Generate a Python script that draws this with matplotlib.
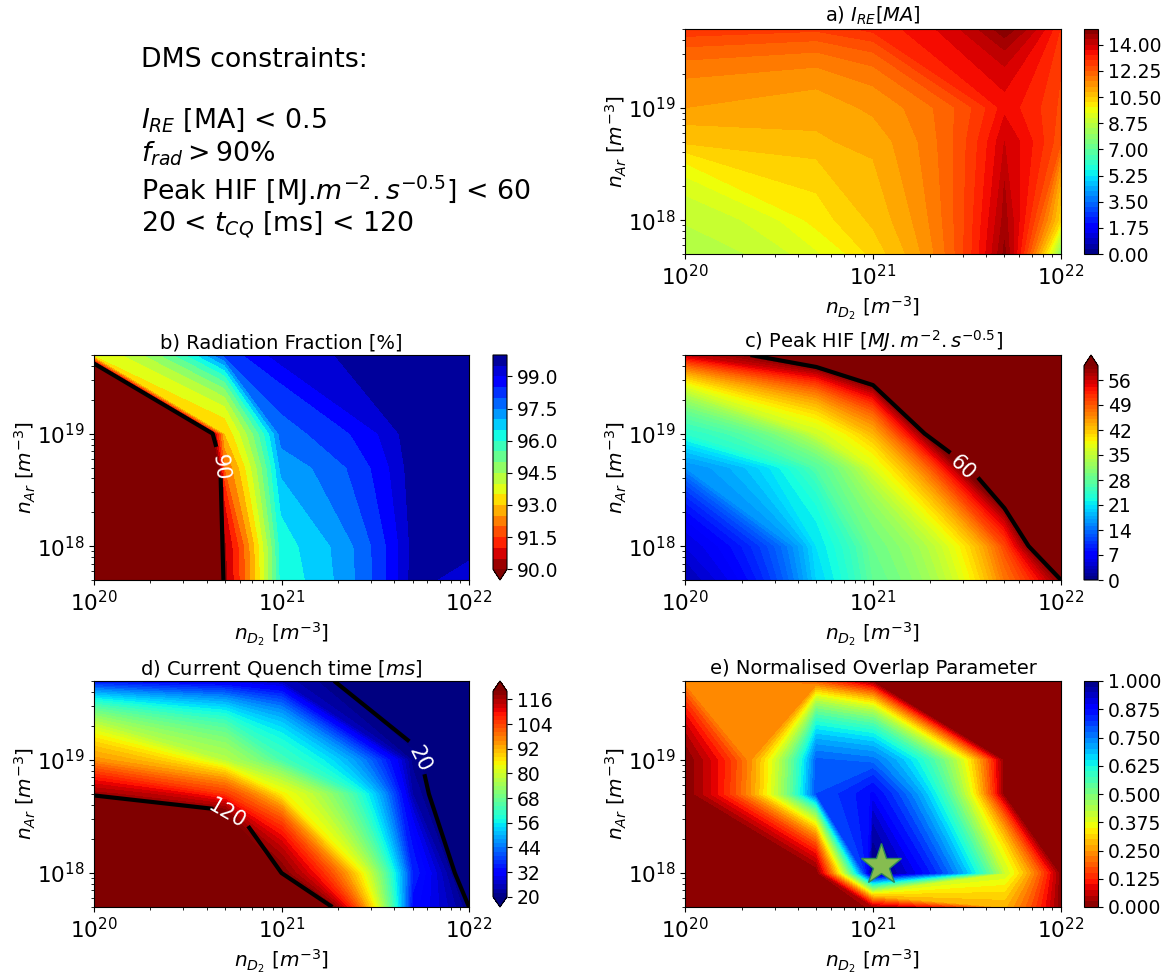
import numpy as np
import matplotlib
matplotlib.use('Agg')
import matplotlib.pyplot as plt

# scan grid
n_d2 = [1e20, 5e20, 1e21, 5e21, 1e22]
n_ar = [5e17, 1e18, 5e18, 1e19, 5e19]

# rows go from lowest n_ar to highest
i_re = [[8.5, 9.4, 10.3, 14.8, 7.7],
        [8.8, 10.0, 10.6, 14.5, 10.2],
        [10.6, 10.8, 11.0, 14.0, 12.3],
        [11.2, 11.0, 11.3, 13.5, 12.5],
        [12.9, 12.7, 13.1, 15.0, 12.9]]

f_rad = [[78.0, 90.3, 96.2, 99.7, 99.1],
         [80.0, 90.4, 96.3, 99.65, 99.88],
         [65.0, 92.0, 97.2, 99.8, 99.9],
         [76.0, 93.0, 97.8, 99.9, 100.0],
         [93.5, 98.2, 99.35, 100.0, 100.0]]

hif = [[3, 20, 28, 47, 60],
       [5, 21, 29, 50, 79],
       [16, 27, 37, 84, 100],
       [24, 36, 43, 120, 130],
       [56, 69, 83, 140, 150]]

t_cq = [[220, 170, 144, 33, 20],
        [200, 144, 120, 36, 12.5],
        [117, 105, 85, 24, 6],
        [95, 77, 63, 21, 10],
        [33, 29, 25, 3, 1]]

overlap = [[0.0, 0.0, 0.03, 0.28, 0.0],
           [0.0, 0.0, 1.00, 0.40, 0.0],
           [0.0, 0.80, 0.88, 0.0, 0.0],
           [0.0, 0.78, 0.76, 0.0, 0.0],
           [0.24, 0.17, 0.0, 0.0, 0.0]]

best_d2 = 1.1e21
best_ar = 1.17e18

W, H = 1169, 973
fig = plt.figure(figsize=(W / 100, H / 100), dpi=100)


def box(x0, y0, x1, y1):
    # pixel box to figure fraction
    return [x0 / W, 1 - y1 / H, (x1 - x0) / W, (y1 - y0) / H]


def panel(pos, cpos, z, levels, cmap, title, ticks, fmt, extend='neither', lines=None, labels=None):
    ax = fig.add_axes(box(*pos))
    cs = ax.contourf(n_d2, n_ar, z, levels=levels, cmap=cmap, extend=extend)
    ax.set_xscale('log')
    ax.set_yscale('log')
    ax.set_xlim(1e20, 1e22)
    ax.set_ylim(5e17, 5e19)
    if lines:
        cl = ax.contour(n_d2, n_ar, z, levels=lines, colors='k', linewidths=3)
        ax.clabel(cl, fmt='%d', colors='white', fontsize=15, inline=True, manual=labels)
    ax.set_title(title, fontsize=14, pad=5)
    ax.set_xlabel(r'$n_{D_2}$ $[m^{-3}]$', fontsize=14.5)
    ax.set_ylabel(r'$n_{Ar}$ $[m^{-3}]$', fontsize=14.5, labelpad=-1)
    ax.tick_params(axis='both', which='major', labelsize=15.5)
    cax = fig.add_axes(box(*cpos))
    cb = fig.colorbar(cs, cax=cax, ticks=ticks, format=fmt)
    cb.ax.tick_params(labelsize=13.5)
    cb.ax.minorticks_off()
    return ax


panel((685, 29, 1061, 254), (1084, 29, 1098, 254), i_re, np.arange(0, 15.05, 0.35), 'jet',
      r'a) $I_{RE} [MA]$', np.arange(0, 14.1, 1.75), '%.2f')
panel((94, 355, 469, 580), (493, 355, 507, 580), f_rad, np.arange(90, 100.01, 0.5), 'jet_r',
      'b) Radiation Fraction [%]', np.arange(90, 99.1, 1.5), '%.1f', extend='min',
      lines=[90], labels=[(4.8e20, 5e18)])
panel((685, 355, 1061, 580), (1084, 355, 1098, 580), hif, np.arange(0, 60.1, 1), 'jet',
      r'c) Peak HIF $[MJ.m^{-2}.s^{-0.5}]$', np.arange(0, 57, 7), '%d', extend='max',
      lines=[60], labels=[(3e21, 5e18)])
panel((94, 681, 469, 907), (493, 681, 507, 907), t_cq, np.arange(20, 120.1, 2), 'jet',
      r'd) Current Quench time $[ms]$', np.arange(20, 117, 12), '%d', extend='both',
      lines=[20, 120], labels=[(5.4e21, 1e19), (5e20, 3.2e18)])
ax_e = panel((685, 681, 1061, 907), (1084, 681, 1098, 907), overlap, np.arange(0, 1.001, 0.025), 'jet_r',
             'e) Normalised Overlap Parameter', np.arange(0, 1.01, 0.125), '%.3f')
ax_e.plot([best_d2], [best_ar], marker='*', markersize=31, color='#86bd50',
          markeredgecolor='#2e8b57', markeredgewidth=1)

# constraints written in the empty corner
notes = ['DMS constraints:',
         r'$I_{RE}$ [MA] < 0.5',
         r'$f_{rad} > 90\%$',
         r'Peak HIF [MJ.$m^{-2}.s^{-0.5}$] < 60',
         r'20 < $t_{CQ}$ [ms] < 120']
for txt, yp in zip(notes, [60, 120, 154, 191, 225]):
    fig.text(141 / W, 1 - yp / H, txt, fontsize=19.3, va='center', ha='left')

fig.savefig('out.png', dpi=100)
